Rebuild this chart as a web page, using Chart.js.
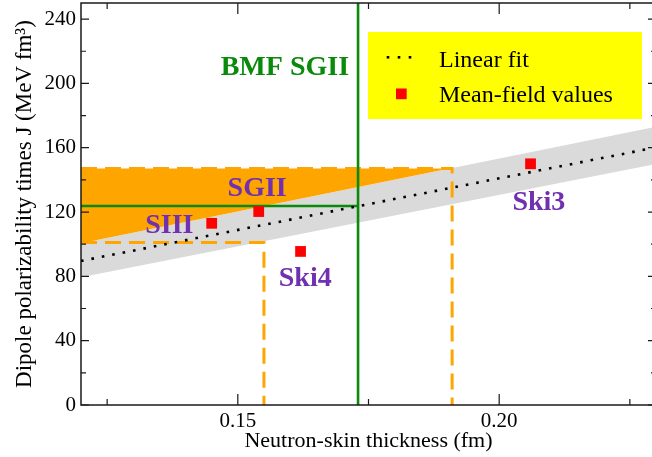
<!DOCTYPE html>
<html><head><meta charset="utf-8">
<script src="https://cdn.jsdelivr.net/npm/chart.js@4/dist/chart.umd.min.js"></script>
<style>html,body{margin:0;padding:0;background:#fff;overflow:hidden;}#wrap{width:652px;height:457px;position:relative;overflow:hidden;}canvas{display:block;}</style>
</head><body><div id="wrap"><canvas id="c" width="656" height="457" style="width:656px;height:457px"></canvas></div>
<script>
// ---- data ----
const forceNames = ['SIII', 'SGII', 'Ski4', 'Ski3'];
const skinThickness = [0.145, 0.154, 0.162, 0.206];      // fm
const polarizabilityJ = [113, 120.3, 95.5, 150];          // MeV fm^3
const fitRangeX = [0.12, 0.23];
const fitJ = [89.6, 160.2];
const bandUpperJ = [100.6, 173.0];
const bandLowerJ = [79.5, 149.8];
const bmfSkin = 0.173;
const bmfJ = 123.8;
const rangeLowSkin = 0.155, rangeLowJ = 101;
const rangeHighSkin = 0.191, rangeHighJ = 147;
const xTickValues = [0.15, 0.20];
const xMinorTicks = [0.125, 0.175, 0.225];
const yTickValues = [0, 40, 80, 120, 160, 200, 240];
const yMinorTicks = [20, 60, 100, 140, 180, 220];
const xRange = [0.12, 0.23];
const yRange = [0, 250];

// ---- text annotations (positions in data units, separate from the data) ----
const labelSpots = [
  {text: 'BMF SGII', x: 0.1590, y: 211, color: '#0a8a0a'},
  {text: forceNames[1], x: 0.1537, y: 135.7, color: '#7030b0'},
  {text: forceNames[0], x: 0.1369, y: 112.7, color: '#7030b0'},
  {text: forceNames[2], x: 0.1629, y: 79.7, color: '#7030b0'},
  {text: forceNames[3], x: 0.2076, y: 127, color: '#7030b0'}
];

const ORANGE = '#ffa500', GRAY = '#dadada', GREEN = '#0a8a0a', RED = '#ff0000';
const SERIF = '"Liberation Serif", "Times New Roman", serif';

// orange region: above the upper band edge, below rangeHighJ
const slopeUp = (bandUpperJ[1] - bandUpperJ[0]) / (fitRangeX[1] - fitRangeX[0]);
const xMeet = fitRangeX[0] + (rangeHighJ - bandUpperJ[0]) / slopeUp;

const pts = (xs, ys) => xs.map((x, i) => ({x, y: ys[i]}));

const datasets = [
  {label: 'Mean-field values', data: pts(skinThickness, polarizabilityJ), showLine: false,
   pointStyle: 'rect', pointRadius: 7.6, pointBackgroundColor: RED, pointBorderWidth: 0},
  {label: 'Linear fit', data: pts(fitRangeX, fitJ), showLine: true, borderColor: '#000',
   borderWidth: 2.6, borderDash: [2.6, 8], pointRadius: 0},
  {label: 'bmfV', data: pts([bmfSkin, bmfSkin], yRange), showLine: true, borderColor: GREEN,
   borderWidth: 2.6, pointRadius: 0},
  {label: 'bmfH', data: pts([xRange[0], bmfSkin], [bmfJ, bmfJ]), showLine: true, borderColor: GREEN,
   borderWidth: 2.6, pointRadius: 0},
  {label: 'rangeHigh', data: pts([xRange[0], rangeHighSkin, rangeHighSkin], [rangeHighJ, rangeHighJ, 0]),
   showLine: true, borderColor: ORANGE, borderWidth: 3, borderDash: [16, 8], pointRadius: 0},
  {label: 'rangeLow', data: pts([xRange[0], rangeLowSkin, rangeLowSkin], [rangeLowJ, rangeLowJ, 0]),
   showLine: true, borderColor: ORANGE, borderWidth: 3, borderDash: [16, 8], pointRadius: 0},
  {label: 'orangeTop', data: pts([fitRangeX[0], xMeet], [rangeHighJ, rangeHighJ]), showLine: true,
   borderWidth: 0, borderColor: 'rgba(0,0,0,0)', pointRadius: 0, fill: '+1', backgroundColor: ORANGE},
  {label: 'orangeBottom', data: pts([fitRangeX[0], xMeet], [bandUpperJ[0], rangeHighJ]), showLine: true,
   borderWidth: 0, borderColor: 'rgba(0,0,0,0)', pointRadius: 0},
  {label: 'bandUpper', data: pts(fitRangeX, bandUpperJ), showLine: true, borderWidth: 0,
   borderColor: 'rgba(0,0,0,0)', pointRadius: 0, fill: '+1', backgroundColor: GRAY},
  {label: 'bandLower', data: pts(fitRangeX, bandLowerJ), showLine: true, borderWidth: 0,
   borderColor: 'rgba(0,0,0,0)', pointRadius: 0}
];

const framePlugin = {
  id: 'frame',
  afterDatasetsDraw(chart) {
    const {ctx, chartArea: a, scales: {x, y}} = chart;
    ctx.save();
    ctx.strokeStyle = '#1a1a1a';
    ctx.lineWidth = 1.5;
    ctx.strokeRect(a.left, a.top, a.right - a.left, a.bottom - a.top);
    ctx.lineWidth = 1.2;
    ctx.beginPath();
    const xt = (vals, len) => vals.forEach(v => {
      const p = x.getPixelForValue(v);
      ctx.moveTo(p, a.bottom); ctx.lineTo(p, a.bottom - len);
      ctx.moveTo(p, a.top); ctx.lineTo(p, a.top + len);
    });
    const yt = (vals, len) => vals.forEach(v => {
      const p = y.getPixelForValue(v);
      ctx.moveTo(a.left, p); ctx.lineTo(a.left + len, p);
      ctx.moveTo(a.right, p); ctx.lineTo(a.right - len, p);
    });
    xt(xTickValues, 11); xt(xMinorTicks, 6);
    yt(yTickValues, 8); yt(yMinorTicks, 5);
    ctx.stroke();

    // annotations
    ctx.textAlign = 'center';
    ctx.textBaseline = 'alphabetic';
    labelSpots.forEach(l => {
      ctx.font = 'bold 28px ' + SERIF;
      ctx.fillStyle = l.color;
      ctx.fillText(l.text, x.getPixelForValue(l.x), y.getPixelForValue(l.y) + 9.5);
    });
    ctx.restore();
  },
  afterDraw(chart) {
    const {ctx} = chart;
    ctx.save();
    ctx.fillStyle = '#ffff00';
    ctx.fillRect(368, 32, 274, 87);
    ctx.fillStyle = '#000';
    [388, 399, 410].forEach(px => ctx.fillRect(px - 1.3, 56, 2.6, 2.6));
    ctx.fillStyle = RED;
    ctx.fillRect(396, 88.5, 10.7, 10.7);
    ctx.fillStyle = '#000';
    ctx.font = '24px ' + SERIF;
    ctx.textAlign = 'left';
    ctx.textBaseline = 'alphabetic';
    ctx.fillText(datasets[1].label, 439, 66.5);
    ctx.fillText(datasets[0].label, 439, 102);
    ctx.restore();
  }
};

new Chart(document.getElementById('c'), {
  type: 'scatter',
  data: {datasets},
  plugins: [framePlugin],
  options: {
    responsive: false,
    maintainAspectRatio: false,
    animation: false,
    events: [],
    layout: {autoPadding: false, padding: {top: 3, right: 0, left: 0, bottom: 0}},
    plugins: {legend: {display: false}, tooltip: {enabled: false}},
    scales: {
      x: {
        type: 'linear', min: xRange[0], max: xRange[1],
        afterBuildTicks: s => { s.ticks = xTickValues.map(v => ({value: v})); },
        afterFit: s => { s.height = 52; s.paddingLeft = 0; s.paddingRight = 0; },
        grid: {display: false, drawTicks: false},
        border: {display: false},
        ticks: {color: '#000', padding: 4, font: {family: SERIF, size: 21},
                callback: v => v.toFixed(2)},
        title: {display: true, text: 'Neutron-skin thickness (fm)', color: '#000',
                font: {family: SERIF, size: 22}, padding: {top: 0, bottom: 3}}
      },
      y: {
        type: 'linear', min: yRange[0], max: yRange[1],
        afterBuildTicks: s => { s.ticks = yTickValues.map(v => ({value: v})); },
        afterFit: s => { s.width = 81; s.paddingTop = 0; s.paddingBottom = 0; },
        grid: {display: false, drawTicks: false},
        border: {display: false},
        ticks: {color: '#000', padding: 5, font: {family: SERIF, size: 21}},
        title: {display: true, text: 'Dipole polarizability times J (MeV fm³)', color: '#000',
                font: {family: SERIF, size: 23}, padding: {top: 11, bottom: 0}}
      }
    }
  }
});
</script></body></html>
